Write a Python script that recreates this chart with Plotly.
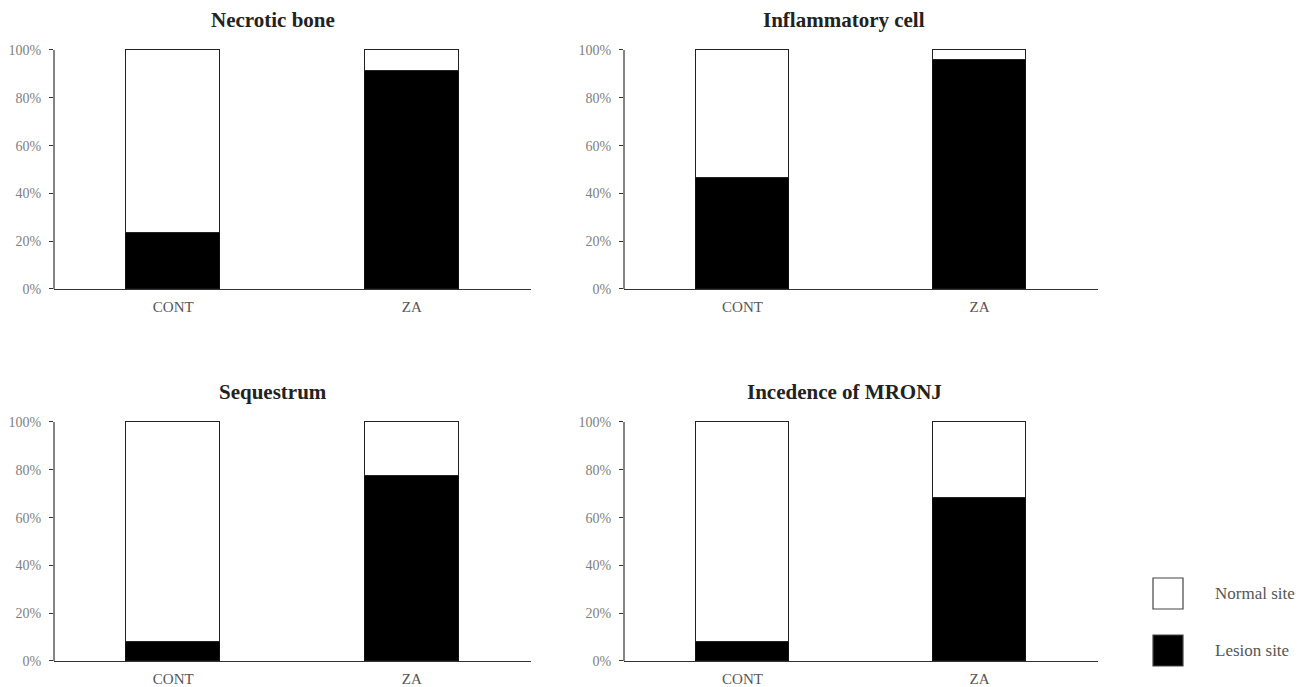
import plotly.graph_objects as go

# ---- data ----
panel_titles = ["Necrotic bone", "Inflammatory cell", "Sequestrum", "Incedence of MRONJ"]
groups = ["CONT", "ZA"]
lesion_pct = [
    [23.1, 90.9],   # Necrotic bone
    [46.2, 95.5],   # Inflammatory cell
    [7.7, 77.3],    # Sequestrum
    [7.7, 68.2],    # Incedence of MRONJ
]
normal_pct = [[100 - v for v in row] for row in lesion_pct]
series_names = ["Normal site", "Lesion site"]
y_ticks = [0, 20, 40, 60, 80, 100]
y_ticktext = ["0%", "20%", "40%", "60%", "80%", "100%"]

W, H = 1309, 687
FONT = "Liberation Serif"
YMAX = 100.7

# panel pixel boxes (left, right, top-of-100%, bottom)
boxes = [(54, 531, 50, 289), (624, 1098, 50, 289),
         (54, 531, 422, 661), (624, 1098, 422, 661)]
title_cx = [273, 844, 273, 844]

fig = go.Figure()
layout = dict(
    width=W, height=H, margin=dict(l=0, r=0, t=0, b=0, autoexpand=False),
    paper_bgcolor="white", plot_bgcolor="white",
    barmode="stack", showlegend=False, bargap=0,
    font=dict(family=FONT, color="#333"),
)
annotations = []
shapes = []

for i, (title, les, nor) in enumerate(zip(panel_titles, lesion_pct, normal_pct)):
    xa = "x" if i == 0 else f"x{i+1}"
    ya = "y" if i == 0 else f"y{i+1}"
    l, r, t, b = boxes[i]
    top_px = b - (b - t) * YMAX / 100.0
    dx = [l / W, r / W]
    dy = [(H - b) / H, (H - top_px) / H]
    fig.add_trace(go.Bar(x=groups, y=les, name=series_names[1], width=0.395,
                         marker=dict(color="black", line=dict(color="#111", width=1.2)),
                         xaxis=xa, yaxis=ya))
    fig.add_trace(go.Bar(x=groups, y=nor, name=series_names[0], width=0.395,
                         marker=dict(color="white", line=dict(color="#222", width=1.5)),
                         xaxis=xa, yaxis=ya))
    kx = "xaxis" if i == 0 else f"xaxis{i+1}"
    ky = "yaxis" if i == 0 else f"yaxis{i+1}"
    layout[kx] = dict(domain=dx, anchor=ya, range=[-0.5, 1.5], showgrid=False,
                      showline=True, linecolor="#333", linewidth=1.2, ticks="",
                      tickfont=dict(family=FONT, size=15, color="#555"),
                      ticklabelstandoff=4,
                      automargin=False, fixedrange=True)
    layout[ky] = dict(domain=dy, anchor=xa, range=[0, YMAX], showgrid=False,
                      showline=False, ticks="outside", ticklen=4, tickcolor="#333",
                      tickvals=y_ticks, ticktext=y_ticktext,
                      tickfont=dict(family=FONT, size=14, color="#808080"),
                      ticklabelstandoff=5,
                      automargin=False, zeroline=False, fixedrange=True)
    # y-axis spine from 0% to 100% only
    shapes.append(dict(type="line", xref=f"{xa} domain", yref=ya,
                       x0=0, x1=0, y0=0, y1=100,
                       line=dict(color="#333", width=1.2)))
    annotations.append(dict(text=f"<b>{title}</b>", xref="paper", yref="paper",
                            x=title_cx[i] / W, y=(H - (t - 30)) / H,
                            xanchor="center", yanchor="middle", showarrow=False,
                            font=dict(family=FONT, size=21, color="#222")))

# legend (drawn manually to match large square swatches)
leg_fill = ["white", "black"]
leg_top = [578, 635]
for name, fill, top in zip(series_names, leg_fill, leg_top):
    shapes.append(dict(type="rect", xref="paper", yref="paper",
                       x0=1153 / W, x1=1183 / W, y0=(H - top - 31) / H, y1=(H - top) / H,
                       fillcolor=fill, line=dict(color="#444", width=1.2)))
    annotations.append(dict(text=name, xref="paper", yref="paper",
                            x=1213 / W, y=(H - top - 15) / H, xanchor="left",
                            yanchor="middle", showarrow=False,
                            font=dict(family=FONT, size=17, color="#555")))

layout["annotations"] = annotations
layout["shapes"] = shapes
fig.update_layout(**layout)
fig.write_html("out.html", config={"displayModeBar": False},
               post_script="document.body.style.margin='0';document.body.style.overflow='hidden';")
